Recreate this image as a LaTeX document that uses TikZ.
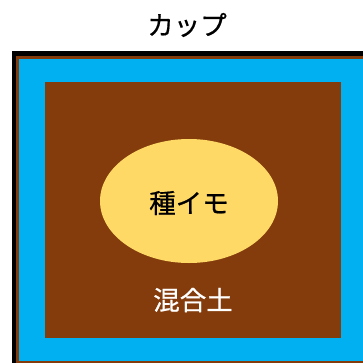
\documentclass[tikz,border=0pt]{standalone}
\usepackage{fontspec}
\usetikzlibrary{shapes.geometric}
\newfontfamily\cjk[FakeBold=0.6]{Noto Sans CJK JP}
\definecolor{soil}{HTML}{843C0C}
\definecolor{cupblue}{HTML}{00B0F0}
\definecolor{tuber}{HTML}{FFD966}
\begin{document}
\begin{tikzpicture}[x=1pt,y=-1pt,
  lbl/.style={font=\cjk\fontsize{26.5}{30}\selectfont, inner sep=0pt}]
\useasboundingbox (0,0) rectangle (363,362);
\begin{scope}
\clip (0,0) rectangle (363,362);
\fill[black] (11.5,51) rectangle (380,380);
\fill[soil] (15.5,55.5) rectangle (380,380);
\fill[cupblue] (19,59) rectangle (380,361);
\fill[soil] (45,82) rectangle (341,338);
\end{scope}
\node[ellipse, fill=tuber, minimum width=178, minimum height=124, inner sep=0pt] (imo) at (189,201) {};
\node[lbl] (imolbl) at (189,203) {種イモ};
\node[lbl, text=white] (soillbl) at (193,300) {混合土};
\node[lbl] (cup) at (187,25) {カップ};
\end{tikzpicture}
\end{document}
